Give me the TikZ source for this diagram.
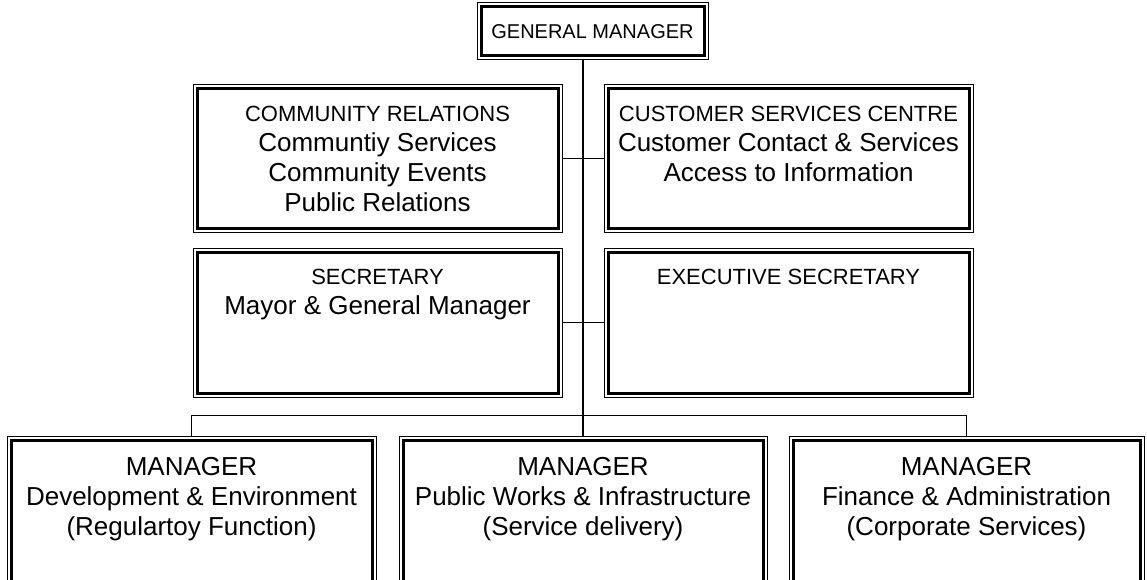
\documentclass[tikz,border=0pt]{standalone}
\usepackage{fontspec}
\setmainfont{Liberation Sans}
\usetikzlibrary{positioning}

\newcommand{\topfont}{\fontsize{20}{30}\selectfont}
\newcommand{\headfont}{\fontsize{22}{30}\selectfont}
\newcommand{\bodyfont}{\fontsize{26}{30}\selectfont}
\newcommand{\unittext}[3]{\parbox[c][#2][t]{#1}{\centering\vspace*{21pt}#3}}

\tikzset{
  unitbox/.style={draw, line width=1pt, inner sep=0pt},
  innerframe/.style={line width=3pt},
  link/.style={line width=1.2pt}
}

\begin{document}
\begin{tikzpicture}[x=1pt, y=-1pt]

  \useasboundingbox (0,0) rectangle (1147,580);
  \clip (0,0) rectangle (1147,580);

  % Define nodes
  \node[unitbox, minimum width=231pt, minimum height=57pt, font=\topfont] (gm) at (592.5,31.5) {GENERAL MANAGER};

  \node[unitbox] (cr) at (377.5,158.5) {\unittext{369pt}{147pt}{{\headfont COMMUNITY RELATIONS}\\ \bodyfont Communtiy Services\\ Community Events\\ Public Relations}};
  \node[unitbox, right=41pt of cr] (cs) {\unittext{369pt}{147pt}{{\headfont CUSTOMER SERVICES CENTRE}\\ \bodyfont Customer Contact \& Services\\ Access to Information}};
  \node[unitbox, below=15pt of cr] (sec) {\unittext{369pt}{149pt}{{\headfont SECRETARY}\\ \bodyfont Mayor \& General Manager}};
  \node[unitbox, below=15pt of cs] (exec) {\unittext{369pt}{149pt}{\headfont EXECUTIVE SECRETARY}};

  \node[unitbox] (pw) at (583,521) {\unittext{368pt}{170pt}{\bodyfont MANAGER\\ Public Works \& Infrastructure\\ (Service delivery)}};
  \node[unitbox, left=22pt of pw] (dev) {\unittext{369pt}{170pt}{\bodyfont MANAGER\\ Development \& Environment\\ (Regulartoy Function)}};
  \node[unitbox, right=21pt of pw] (fin) {\unittext{355pt}{170pt}{\bodyfont MANAGER\\ Finance \& Administration\\ (Corporate Services)}};

  % Inner thick frames
  \foreach \n in {gm, cr, cs, sec, exec, pw, dev, fin}
    \draw[innerframe] ([shift={(4.5pt,-4.5pt)}]\n.north west) rectangle ([shift={(-4.5pt,4.5pt)}]\n.south east);

  % Connect the nodes
  \coordinate[above=20pt of pw.north] (bus);
  \draw[link] (gm.south -| pw.north) -- (pw.north);
  \draw[link] (cr.east) -- (cs.west);
  \draw[link] (sec.east) -- (exec.west);
  \draw[link] (dev.north) |- (bus) -| (fin.north);

\end{tikzpicture}
\end{document}
